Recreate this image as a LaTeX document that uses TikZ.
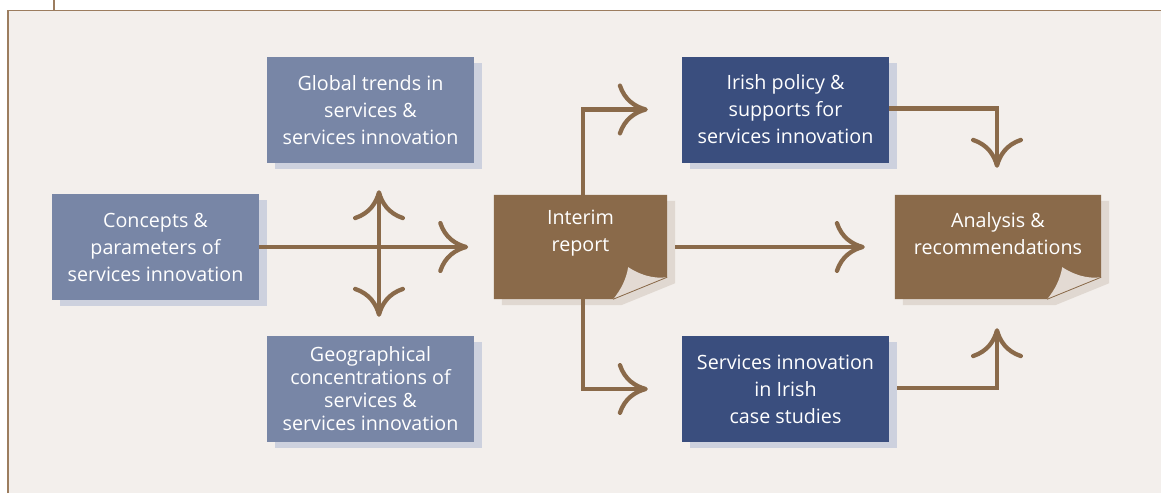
\documentclass[tikz,border=0pt]{standalone}
\usepackage{fontspec}
\setmainfont{Open Sans}
\usetikzlibrary{arrows.meta,calc,shadows}
\definecolor{bg}{HTML}{F3EFEC}
\definecolor{brn}{HTML}{8A6A4A}
\definecolor{frm}{HTML}{9C7D5F}
\definecolor{lblue}{HTML}{7886A6}
\definecolor{dblue}{HTML}{3A4E7E}
\definecolor{bshad}{HTML}{CDD1DE}
\definecolor{nshad}{HTML}{E0D8D1}
\definecolor{curlc}{HTML}{E3DAD3}
\begin{document}
\begin{tikzpicture}[x=1pt,y=-1pt,
  box/.style={rectangle, minimum width=207pt, minimum height=106pt, inner sep=0pt,
    text=white, font=\fontsize{19.7}{27}\selectfont, align=center,
    drop shadow={shadow xshift=8pt, shadow yshift=-6pt, fill=bshad, opacity=1}},
  lbox/.style={box, fill=lblue},
  dbox/.style={box, fill=dblue},
  pbox/.style={rectangle, minimum height=104pt, inner sep=0pt},
  ptxt/.style={text=white, font=\fontsize{19.7}{27}\selectfont, align=center, inner sep=0pt},
  arr/.style={draw=brn, line width=4.3pt, -{Computer Modern Rightarrow[length=30pt,width=52pt]}},
  darr/.style={draw=brn, line width=4.3pt, {Computer Modern Rightarrow[length=30pt,width=52pt]}-{Computer Modern Rightarrow[length=30pt,width=52pt]}},
  frame/.style={draw=frm, line width=1.6pt}
]
\useasboundingbox (0,0) rectangle (1161,493);
\fill[white] (0,0) rectangle (1161,493);
\fill[bg] (8,10.5) rectangle (1161,493);
\draw[frame] (8,493) -- (8,10.5) -- (1161,10.5);
\draw[frame] (54,0) -- (54,10.5);

% blue boxes
\node[lbox] (concepts) at (155.5,247) {Concepts \&\\parameters of\\services innovation};
\node[lbox] (global) at (370.5,110) {Global trends in\\services \&\\services innovation};
\node[lbox, font=\fontsize{19.7}{23}\selectfont] (geo) at (370.5,389) {Geographical\\concentrations of\\services \&\\services innovation};
\node[dbox] (irish) at (785.5,109.5) {Irish policy \&\\supports for\\services innovation};
\node[dbox] (cases) at (785.5,389) {Services innovation\\in Irish\\case studies};

% brown page boxes
\node[pbox, minimum width=173pt] (interim) at (580.5,247) {};
\node[pbox, minimum width=206pt] (analysis) at (998,247) {};

\foreach \n in {interim,analysis}{
  \fill[nshad] ($(\n.north west)+(8,6)$) -- ($(\n.north east)+(8,6)$) -- ($(\n.south east)+(8,-16)$)
     -- ($(\n.south east)+(-46,6)$) -- ($(\n.south west)+(8,6)$) -- cycle;
  \fill[brn] (\n.north west) -- (\n.north east) -- ($(\n.south east)+(0,-22)$)
     -- ($(\n.south east)+(-54,0)$) -- (\n.south west) -- cycle;
  \fill[curlc] ($(\n.south east)+(-54,0)$) -- ($(\n.south east)+(0,-22)$)
     .. controls ($(\n.south east)+(-15,-20)$) and ($(\n.south east)+(-28,-25)$) .. ($(\n.south east)+(-39,-32)$)
     .. controls ($(\n.south east)+(-41,-20)$) and ($(\n.south east)+(-46,-10)$) .. cycle;
  \draw[brn, line width=0.8pt] ($(\n.south east)+(-54,0)$) -- ($(\n.south east)+(0,-22)$);
}
\node[ptxt] (interimtxt) at ($(interim.center)+(0,-13.5)$) {Interim\\report};
\node[ptxt] (analysistxt) at ($(analysis.center)+(0,-13.5)$) {Analysis \&\\recommendations};

% connector coordinates
\coordinate (c1) at ($(concepts.east)+(209,0)$);
\coordinate (vt) at ($(global.south)+(8.5,27)$);
\coordinate (vb) at ($(geo.north)+(8.5,-19)$);
\coordinate (it) at ($(interim.north)+(2.5,0)$);
\coordinate (ib) at ($(interim.south)+(2.5,0)$);
\coordinate (itop) at ($(irish.west)+(-34,0)$);
\coordinate (ibot) at ($(cases.west)+(-34,0)$);
\coordinate (ir) at ($(interim.east)+(8,0)$);
\coordinate (amid) at ($(analysis.west)+(-30,0)$);
\coordinate (atop) at ($(analysis.north)+(-1,-27)$);
\coordinate (abot) at ($(analysis.south)+(-1,29)$);
\coordinate (irishR) at ($(irish.east)+(0,-1)$);
\coordinate (casesR) at ($(cases.east)+(8,-1)$);

\draw[arr] (concepts.east) -- (c1);
\draw[darr] (vt) -- (vb);
\draw[arr] (it) |- (itop);
\draw[arr] (ib) |- (ibot);
\draw[arr] (ir) -- (amid);
\draw[arr] (irishR) -| (atop);
\draw[arr] (casesR) -| (abot);
\end{tikzpicture}
\end{document}
